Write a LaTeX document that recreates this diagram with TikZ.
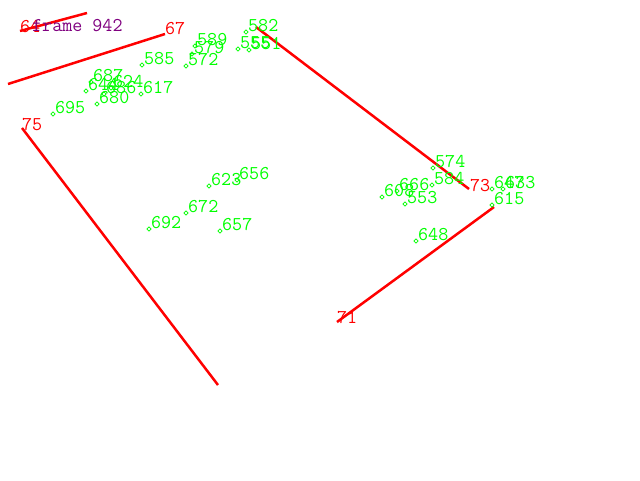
\documentclass[tikz,border=0pt]{standalone}
\usetikzlibrary{shapes.geometric}
\definecolor{lime}{RGB}{0,255,0}
\definecolor{rd}{RGB}{255,0,0}
\definecolor{pur}{RGB}{128,0,128}
\tikzset{
  mk/.style={diamond,draw=lime,line width=0.6pt,inner sep=0pt,minimum size=4.5pt},
  gl/.style={anchor=base west,inner sep=0pt,text=lime,font=\fontsize{19.5}{19.5}\ttfamily},
  rl/.style={anchor=base west,inner sep=0pt,text=rd,font=\fontsize{19.5}{19.5}\ttfamily},
  seg/.style={draw=rd,line width=2.5pt},
}
\begin{document}
\begin{tikzpicture}[x=1pt,y=-1pt]
\useasboundingbox[fill=white] (0,0) rectangle (640,480);
% red segments
\coordinate (a1) at (20,31); \coordinate (a2) at (87,13);
\coordinate (b1) at (8,84); \coordinate (b2) at (165,34);
\coordinate (c1) at (22,128); \coordinate (c2) at (218,385);
\coordinate (d1) at (256,27); \coordinate (d2) at (469,189);
\coordinate (e1) at (337,322); \coordinate (e2) at (494,207);
\draw[seg] (a1) -- (a2);
\draw[seg] (b1) -- (b2);
\draw[seg] (c1) -- (c2);
\draw[seg] (d1) -- (d2);
\draw[seg] (e1) -- (e2);
\node[rl] (ta) at (20,32) {64};
\node[rl] (tb) at (165,34) {67};
\node[rl] (tc) at (22,130) {75};
\node[rl] (td) at (470,191) {73};
\node[rl] (te) at (337,323) {71};
\node[anchor=base west,inner sep=0pt,text=pur,font=\fontsize{19.5}{19.5}\ttfamily] (fr) at (32,31) {frame 942};
% green markers
\foreach \n/\x/\y in {582/246/32, 589/195/46, 579/192/54, 572/186/66, 585/142/65,
  555/238/49, 551/249/50,
  687/91/82, 624/111/88, 644/86/91, 666b/104/94, 680/97/104, 617/141/94,
  695/53/114,
  623/209/186, 656/237/180, 672/186/213, 692/149/229, 657/220/231,
  574/433/168, 584/432/185, 666/397/191, 608/382/197, 553/405/204,
  647/492/189, 633/503/189, 615/492/205, 648/416/241}{
  \node[mk] (m\n) at (\x,\y) {};
}
\node[gl] at ([xshift=2pt,yshift=1pt]m582) (l582) {582};
\node[gl] at ([xshift=2pt,yshift=1pt]m589) (l589) {589};
\node[gl] at ([xshift=2pt,yshift=1pt]m579) (l579) {579};
\node[gl] at ([xshift=2pt,yshift=1pt]m572) (l572) {572};
\node[gl] at ([xshift=2pt,yshift=1pt]m585) (l585) {585};
\node[gl] at ([xshift=2pt,yshift=1pt]m555) (l555) {555};
\node[gl] at ([xshift=2pt,yshift=1pt]m551) (l551) {551};
\node[gl] at ([xshift=2pt,yshift=1pt]m687) (l687) {687};
\node[gl] at ([xshift=2pt,yshift=1pt]m624) (l624) {624};
\node[gl] at ([xshift=2pt,yshift=1pt]m644) (l644) {644};
\node[gl] at ([xshift=2pt,yshift=1pt]m666b) (l666b) {686};
\node[gl] at ([xshift=2pt,yshift=1pt]m680) (l680) {680};
\node[gl] at ([xshift=2pt,yshift=1pt]m617) (l617) {617};
\node[gl] at ([xshift=2pt,yshift=1pt]m695) (l695) {695};
\node[gl] at ([xshift=2pt,yshift=1pt]m623) (l623) {623};
\node[gl] at ([xshift=2pt,yshift=1pt]m656) (l656) {656};
\node[gl] at ([xshift=2pt,yshift=1pt]m672) (l672) {672};
\node[gl] at ([xshift=2pt,yshift=1pt]m692) (l692) {692};
\node[gl] at ([xshift=2pt,yshift=1pt]m657) (l657) {657};
\node[gl] at ([xshift=2pt,yshift=1pt]m574) (l574) {574};
\node[gl] at ([xshift=2pt,yshift=1pt]m584) (l584) {584};
\node[gl] at ([xshift=2pt,yshift=1pt]m666) (l666) {666};
\node[gl] at ([xshift=2pt,yshift=1pt]m608) (l608) {608};
\node[gl] at ([xshift=2pt,yshift=1pt]m553) (l553) {553};
\node[gl] at ([xshift=2pt,yshift=1pt]m647) (l647) {647};
\node[gl] at ([xshift=2pt,yshift=1pt]m633) (l633) {633};
\node[gl] at ([xshift=2pt,yshift=1pt]m615) (l615) {615};
\node[gl] at ([xshift=2pt,yshift=1pt]m648) (l648) {648};
\end{tikzpicture}
\end{document}
